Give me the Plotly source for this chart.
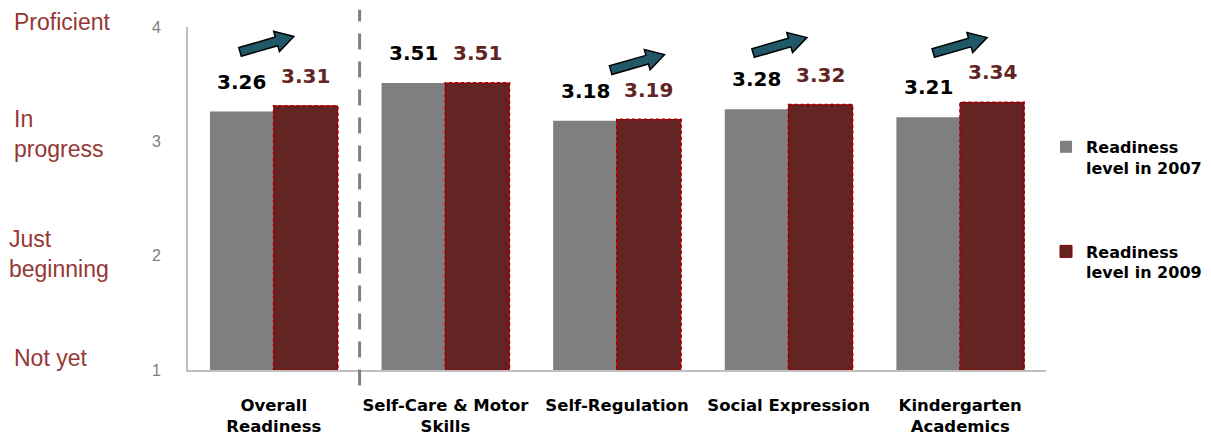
import numpy as np
import plotly.graph_objects as go

categories = ["Overall<br>Readiness", "Self-Care & Motor<br>Skills", "Self-Regulation",
              "Social Expression", "Kindergarten<br>Academics"]
vals_2007 = [3.26, 3.51, 3.18, 3.28, 3.21]
vals_2009 = [3.31, 3.51, 3.19, 3.32, 3.34]
series_names = ["Readiness<br>level in 2007", "Readiness<br>level in 2009"]
level_labels = ["Not yet", "Just<br>beginning", "In<br>progress", "Proficient"]
level_values = [1, 2, 3, 4]
arrow_groups = [0, 2, 3, 4]
arrow_y = [3.85, 3.69, 3.84, 3.84]
arrow_dx = [-0.04, 0.12, -0.05, 0.0]

GREY = "#7F7F7F"
RED = "#632523"
LBL_RED = "#953735"
BOLD_FONT = "DejaVu Sans"
BARGAP = 0.256

xs = list(range(len(categories)))
fig = go.Figure()
fig.add_bar(x=xs, y=vals_2007, name=f"<b>{series_names[0]}</b>", marker_color=GREY,
            marker_line_width=0, legendgroup="a")
fig.add_bar(x=xs, y=vals_2009, name=f"<b>{series_names[1]}</b>", marker_color=RED,
            marker_line=dict(color="#8B0000", width=1), legendgroup="b")

half = (1 - BARGAP) / 4
for i, (a, b) in enumerate(zip(vals_2007, vals_2009)):
    fig.add_annotation(x=i - half, y=a, text=f"<b>{a:.2f}</b>", showarrow=False,
                       yanchor="middle", yshift=30,
                       font=dict(family=BOLD_FONT, size=20, color="#000000"))
    fig.add_annotation(x=i + half, y=b, text=f"<b>{b:.2f}</b>", showarrow=False,
                       yanchor="middle", yshift=30,
                       font=dict(family=BOLD_FONT, size=20, color=RED))
    # dotted outline of the 2009 bar
    fig.add_shape(type="rect", xref="x", yref="y", x0=i, x1=i + 2 * half, y0=1, y1=b,
                  line=dict(color="#A00000", width=2, dash="dot"), fillcolor="rgba(0,0,0,0)",
                  layer="above")

# level labels on the left
for lab, v in zip(level_labels, level_values):
    shift = {1: 12, 2: 2, 3: 7, 4: 5}[v]
    xpix = {1: 12, 2: 7, 3: 12, 4: 12}[v]
    fig.add_annotation(xref="paper", yref="y", x=(xpix - 188) / 858, y=v, yshift=shift,
                       text=lab, showarrow=False, xanchor="left", yanchor="middle",
                       align="left",
                       font=dict(family="Liberation Sans", size=23, color=LBL_RED))

# block arrows
L, sw, hw, hs = 56, 4.5, 10.5, 38
local = np.array([(0, -sw), (hs, -sw), (hs, -hw), (L, 0), (hs, hw), (hs, sw), (0, sw)], float)
local[:, 0] -= L / 2
th = np.deg2rad(16)
rot = np.array([[np.cos(th), -np.sin(th)], [np.sin(th), np.cos(th)]])
pts = local @ rot.T
path = "M " + " L ".join(f"{px:.2f},{py:.2f}" for px, py in pts) + " Z"
for g, yv, dx in zip(arrow_groups, arrow_y, arrow_dx):
    fig.add_shape(type="path", xref="x", yref="y", xsizemode="pixel", ysizemode="pixel",
                  xanchor=g + dx, yanchor=yv, path=path,
                  fillcolor="#215868", line=dict(color="#000000", width=1.5))

# dashed divider
fig.add_shape(type="line", xref="x", yref="paper", x0=0.5, x1=0.5, y0=-0.045, y1=1.05,
              line=dict(color="#808080", width=3, dash="16px,12px"))

fig.update_layout(
    width=1211, height=443,
    margin=dict(l=188, r=165, t=27, b=73, autoexpand=False),
    paper_bgcolor="white", plot_bgcolor="white",
    barmode="group", bargap=BARGAP, bargroupgap=0,
    showlegend=True,
    legend=dict(x=1.0, y=0.70, xanchor="left", yanchor="top", tracegroupgap=60,
                valign="top",
                font=dict(family=BOLD_FONT, size=16, color="#000000"),
                itemwidth=30, bgcolor="rgba(0,0,0,0)"),
    font=dict(family=BOLD_FONT),
)
fig.update_xaxes(range=[-0.5, 4.5], tickvals=xs, ticktext=[f"<b>{c}</b>" for c in categories],
                 showline=True, linecolor="#BFBFBF", linewidth=2, ticks="",
                 showgrid=False, zeroline=False, ticklabelstandoff=19, automargin=False,
                 tickfont=dict(family=BOLD_FONT, size=16.5, color="#000000"))
fig.update_yaxes(range=[1, 4], tickvals=level_values, showline=True, linecolor="#BFBFBF",
                 linewidth=2, ticks="", showgrid=False, zeroline=False, automargin=False,
                 ticklabelstandoff=22,
                 tickfont=dict(family="Liberation Sans", size=16, color="#808080"))

fig.write_html("out.html", config={"displayModeBar": False},
               post_script="document.body.style.margin='0';document.body.style.overflow='hidden';")
